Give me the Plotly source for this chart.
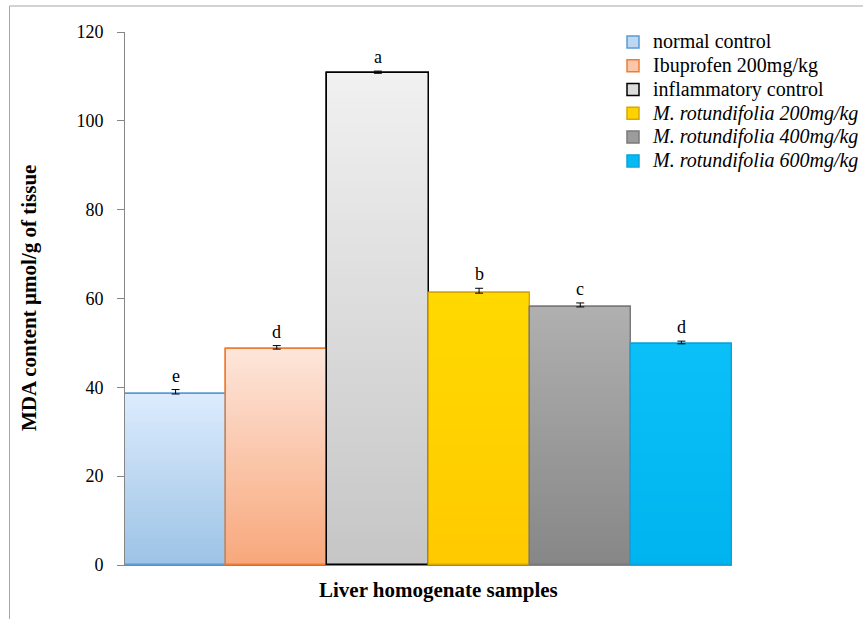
import plotly.graph_objects as go

# Treatment groups and measured MDA content (µmol/g of tissue)
groups = ["normal control", "Ibuprofen 200mg/kg", "inflammatory control",
          "M. rotundifolia 200mg/kg", "M. rotundifolia 400mg/kg",
          "M. rotundifolia 600mg/kg"]
legend_names = ["normal control", "Ibuprofen 200mg/kg", "inflammatory control",
                "<i>M. rotundifolia 200mg/kg</i>", "<i>M. rotundifolia 400mg/kg</i>",
                "<i>M. rotundifolia 600mg/kg</i>"]
mda = [38.5, 48.6, 110.7, 61.2, 58.1, 49.8]
sem = [1.0, 0.8, 0.5, 1.1, 0.9, 0.6]
letters = ["e", "d", "a", "b", "c", "d"]
y_ticks = [0, 20, 40, 60, 80, 100, 120]

# Fill gradients (top colour, bottom colour) and outline colours per group
top_colors = ["#dcecfd", "#fde6db", "#f1f1f1", "#ffd900", "#b0b0b0", "#0bbff8"]
bottom_colors = ["#9dc3e6", "#f8a87c", "#c6c6c6", "#ffca00", "#878787", "#00b5ef"]
line_colors = ["#5b9bd5", "#ed7d31", "#000000", "#d9a800", "#7a7a7a", "#0aa3db"]

FONT = "Liberation Serif"
W, H = 863, 619
ML, MR, MT, MB = 125, 131, 32, 54


def hex_rgb(h):
    h = h.lstrip("#")
    return tuple(int(h[i:i + 2], 16) for i in (0, 2, 4))


def mix(c1, c2, t):
    a, b = hex_rgb(c1), hex_rgb(c2)
    return "rgb({},{},{})".format(*[round(a[k] + (b[k] - a[k]) * t) for k in range(3)])


fig = go.Figure()

# Legend entries: full bars in a mid-tone with their outline
for name, lname, v, tc, bc, lc in zip(groups, legend_names, mda, top_colors,
                                      bottom_colors, line_colors):
    fig.add_trace(go.Bar(x=[name], y=[v],
                         name="<span style=\"font-family:'Liberation Serif',serif;font-size:20px\">"
                              + lname + "</span>",
                         marker_color=mix(tc, bc, 0.5),
                         marker_line=dict(color=lc, width=1.5), showlegend=True,
                         hoverinfo="skip"))

# Vertical gradient: stacked overlapping slices, each reaching to the bar top
N = 60
for i in range(N):
    t = i / N
    fig.add_trace(go.Bar(
        x=groups,
        base=[v * t for v in mda],
        y=[v - v * t for v in mda],
        marker_color=[mix(bc, tc, t) for tc, bc in zip(top_colors, bottom_colors)],
        marker_line_width=0,
        showlegend=False, hoverinfo="skip"))

# Outlines and error bars on top
fig.add_trace(go.Bar(
    x=groups, y=mda,
    marker=dict(color="rgba(0,0,0,0)", line=dict(color=line_colors, width=1.5)),
    error_y=dict(type="data", symmetric=False, array=sem, arrayminus=[0] * len(sem),
                 color="black", thickness=1, width=4),
    showlegend=False))

# Significance letters above each bar
for g, v, e, s in zip(groups, mda, sem, letters):
    fig.add_annotation(x=g, y=v + e, text=s, showarrow=False, yanchor="bottom",
                       yshift=2, font=dict(family=FONT, size=18, color="black"))

pw, ph = W - ML - MR, H - MT - MB

# Axis titles
fig.add_annotation(xref="paper", yref="paper", x=(438 - ML) / pw, y=(H - MB - 590) / ph,
                   xanchor="center", yanchor="middle",
                   text="<b>Liver homogenate samples</b>", showarrow=False,
                   font=dict(family=FONT, size=21, color="black"))
fig.add_annotation(xref="paper", yref="paper", x=(29 - ML) / pw, y=(H - MB - 298) / ph,
                   xanchor="center", yanchor="middle",
                   text="<b>MDA content µmol/g of tissue</b>", showarrow=False,
                   textangle=-90, font=dict(family=FONT, size=21, color="black"))

# Chart frame
fig.add_shape(type="rect", xref="paper", yref="paper",
              x0=(9.5 - ML) / pw, x1=(W + 20 - ML) / pw,
              y0=(H - MB - (H + 20)) / ph, y1=(H - MB - 6) / ph,
              line=dict(color="#a6a6a6", width=1), fillcolor="rgba(0,0,0,0)", layer="below")

fig.update_layout(
    width=W, height=H,
    margin=dict(l=ML, r=MR, t=MT, b=MB, autoexpand=False),
    barmode="overlay", bargap=0,
    plot_bgcolor="white", paper_bgcolor="white",
    font=dict(family=FONT, size=18, color="black"),
    showlegend=True,
    legend=dict(x=(613 - ML) / pw, y=(H - MB - 25) / ph, xanchor="left", yanchor="top",
                bgcolor="rgba(0,0,0,0)", font=dict(family=FONT, size=16, color="black"),
                tracegroupgap=0, traceorder="normal"),
    xaxis=dict(showticklabels=False, ticks="", showline=True, linecolor="#868686",
               linewidth=1, showgrid=False, zeroline=False),
    yaxis=dict(range=[0, 120], tickvals=y_ticks, ticks="outside", ticklen=7,
               tickcolor="#868686", showline=True, linecolor="#868686", linewidth=1,
               showgrid=False, zeroline=False, ticklabelstandoff=10,
               tickfont=dict(family=FONT, size=18, color="black")),
)

fig.write_html("out.html")
